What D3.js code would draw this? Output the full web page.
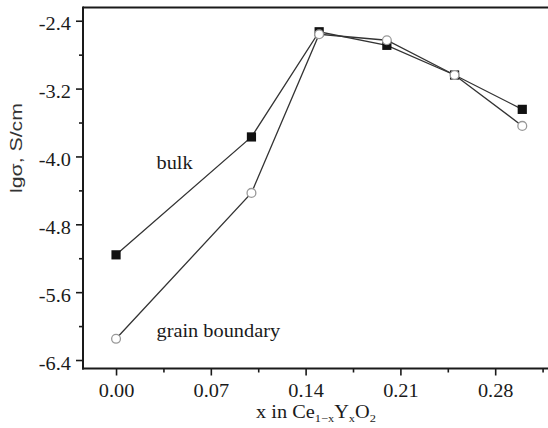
<!DOCTYPE html>
<html>
<head>
<meta charset="utf-8">
<script src="https://cdn.jsdelivr.net/npm/d3@7"></script>
<style>
  html, body { margin: 0; padding: 0; background: #fff; }
  svg { display: block; }
</style>
</head>
<body>
<svg id="chart" width="548" height="428"></svg>
<script>
// Yttrium content x in Ce(1-x)Y(x)O2
const xValues = [0.00, 0.10, 0.15, 0.20, 0.25, 0.30];
// log10 conductivity (S/cm)
const bulk = [-5.16, -3.77, -2.53, -2.69, -3.04, -3.445];
const grainBoundary = [-6.15, -4.43, -2.56, -2.63, -3.04, -3.64];

const xTicks = [0.00, 0.07, 0.14, 0.21, 0.28];
const xMinorTicks = [0.035, 0.105, 0.175, 0.245, 0.315];
const yTicks = [-2.4, -3.2, -4.0, -4.8, -5.6, -6.4];
const yMinorTicks = [-2.8, -3.6, -4.4, -5.2, -6.0];

const svg = d3.select("#chart");
const plotLeft = 83, plotRight = 548, plotTop = 7.5, plotBottom = 368.5;

const x = d3.scaleLinear().domain([-0.0244, 0.319]).range([plotLeft, plotRight]);
const y = d3.scaleLinear().domain([-6.5, -2.244]).range([plotBottom, plotTop]);

const serif = "'Liberation Serif', 'Times New Roman', serif";
const ink = "#1a1a1a";
const stretch = 1.13;

// frame top line
svg.append("line")
  .attr("x1", plotLeft).attr("x2", plotRight)
  .attr("y1", plotTop).attr("y2", plotTop)
  .attr("stroke", ink).attr("stroke-width", 2);

// x axis
const gx = svg.append("g").attr("transform", `translate(0,${plotBottom})`);
gx.append("g").call(d3.axisBottom(x).tickValues(xMinorTicks).tickSize(4).tickFormat(""));
gx.append("g").call(d3.axisBottom(x).tickValues(xTicks).tickSize(7).tickPadding(6)
  .tickFormat(d3.format(".2f")));
gx.selectAll(".domain").remove();
gx.selectAll(".tick line").attr("stroke", ink).attr("stroke-width", 1.6);
gx.selectAll(".tick text")
  .attr("font-family", serif).attr("font-size", 18).attr("fill", ink)
  .attr("y", 0).attr("dy", 0)
  .attr("transform", `translate(0,28) scale(${stretch},1)`);

// y axis (plain hyphen for the minus sign)
const yFormat = d => d.toFixed(1);
const gy = svg.append("g").attr("transform", `translate(${plotLeft},0)`);
gy.append("g").call(d3.axisLeft(y).tickValues(yMinorTicks).tickSize(4).tickFormat(""));
gy.append("g").call(d3.axisLeft(y).tickValues(yTicks).tickSize(7).tickFormat(yFormat));
gy.selectAll(".domain").remove();
gy.selectAll(".tick line").attr("stroke", ink).attr("stroke-width", 1.6);
gy.selectAll(".tick text")
  .attr("font-family", serif).attr("font-size", 18).attr("fill", ink)
  .attr("x", 0).attr("dy", 0)
  .attr("transform", `translate(-12,9) scale(${stretch},1)`);

// axis lines
svg.append("line")
  .attr("x1", plotLeft).attr("x2", plotLeft).attr("y1", plotTop - 1).attr("y2", plotBottom + 1)
  .attr("stroke", ink).attr("stroke-width", 2);
svg.append("line")
  .attr("x1", plotLeft - 1).attr("x2", plotRight).attr("y1", plotBottom).attr("y2", plotBottom)
  .attr("stroke", ink).attr("stroke-width", 2);

// series lines
const line = d3.line().x(d => x(d[0])).y(d => y(d[1]));
const bulkPts = xValues.map((v, i) => [v, bulk[i]]);
const gbPts = xValues.map((v, i) => [v, grainBoundary[i]]);

[bulkPts, gbPts].forEach(pts => {
  svg.append("path").datum(pts).attr("d", line)
    .attr("fill", "none").attr("stroke", "#333").attr("stroke-width", 1.3);
});

// bulk markers: filled squares
svg.append("g").selectAll("rect").data(bulkPts).join("rect")
  .attr("x", d => x(d[0]) - 4.6).attr("y", d => y(d[1]) - 4.6)
  .attr("width", 9.2).attr("height", 9.2)
  .attr("fill", "#111");

// grain boundary markers: open circles
svg.append("g").selectAll("circle").data(gbPts).join("circle")
  .attr("cx", d => x(d[0])).attr("cy", d => y(d[1])).attr("r", 4.4)
  .attr("fill", "#fff").attr("stroke", "#999").attr("stroke-width", 1.3);

// series labels
svg.append("text").text("bulk")
  .attr("transform", `translate(156.5,169) scale(${stretch},1)`)
  .attr("font-family", serif).attr("font-size", 18).attr("fill", ink);
svg.append("text").text("grain boundary")
  .attr("transform", `translate(156.5,336.5) scale(${stretch},1)`)
  .attr("font-family", serif).attr("font-size", 18).attr("fill", ink);

// x axis title with subscripts
const xt = svg.append("text")
  .attr("transform", `translate(316,418) scale(${stretch},1)`)
  .attr("text-anchor", "middle")
  .attr("font-family", serif).attr("font-size", 18).attr("fill", ink);
xt.append("tspan").text("x in Ce");
xt.append("tspan").text("1\u2212x").attr("font-size", 11).attr("dy", 4);
xt.append("tspan").text("Y").attr("dy", -4);
xt.append("tspan").text("x").attr("font-size", 11).attr("dy", 4);
xt.append("tspan").text("O").attr("dy", -4);
xt.append("tspan").text("2").attr("font-size", 11).attr("dy", 4);

// y axis title
svg.append("text").text("lg\u03c3, S/cm")
  .attr("transform", "translate(22,148) rotate(-90)")
  .attr("text-anchor", "middle")
  .attr("font-family", "'Liberation Sans', Arial, sans-serif")
  .attr("font-size", 16).attr("fill", "#333")
  .attr("textLength", 90).attr("lengthAdjust", "spacingAndGlyphs");
</script>
</body>
</html>
